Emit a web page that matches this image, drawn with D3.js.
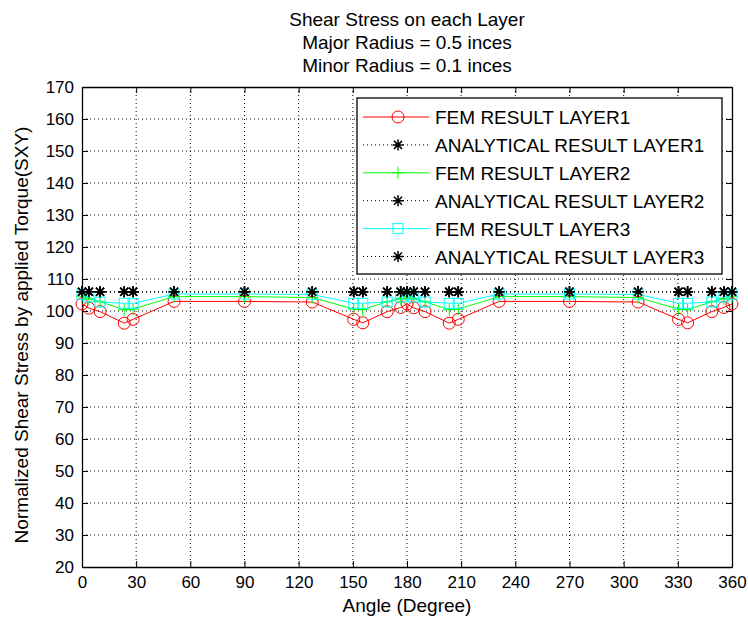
<!DOCTYPE html>
<html>
<head>
<meta charset="utf-8">
<script src="https://cdn.jsdelivr.net/npm/d3@7"></script>
<style>
  html, body { margin: 0; padding: 0; background: #fff; }
  svg { display: block; }
  text { font-family: "Liberation Sans", Arial, sans-serif; fill: #000; }
</style>
</head>
<body>
<svg id="chart" width="748" height="626"></svg>
<script>
// Angular positions of the mesh nodes (degrees)
const angles = [0, 3.8, 10, 23.4, 28.3, 51, 90, 127.5, 150.5, 155.5, 169, 176.5, 180,
                183.7, 190, 203.4, 208.4, 231, 270, 308, 330.4, 335.4, 348.8, 355.5, 360];

// Normalized shear stress per layer (FEM) and closed-form reference
const femLayer1 = [102.2, 100.9, 99.8, 96.2, 97.4, 103, 103, 102.8, 97.4, 96.3, 99.8, 101.1, 102.2,
                   101, 99.8, 96.2, 97.4, 103, 103, 102.8, 97.4, 96.3, 99.8, 101.1, 102.2];
const femLayer2 = [104.6, 103.8, 102.9, 100.4, 100.6, 104.5, 104.5, 104.2, 100.6, 100.4, 102.9, 103.8, 104.6,
                   103.8, 102.9, 100.4, 100.6, 104.5, 104.5, 104.2, 100.6, 100.4, 102.9, 103.8, 104.6];
const femLayer3 = [105.2, 104.4, 102.8, 102.4, 102.4, 105.3, 105.3, 105.2, 102.4, 102.4, 102.8, 104.4, 105.2,
                   104.4, 102.8, 102.4, 102.4, 105.3, 105.3, 105.2, 102.4, 102.4, 102.8, 104.4, 105.2];
const analytical = [106, 106, 106, 106, 106, 106, 106, 106, 106, 106, 106, 106, 106,
                    106, 106, 106, 106, 106, 106, 106, 106, 106, 106, 106, 106];

const xTicks = [0, 30, 60, 90, 120, 150, 180, 210, 240, 270, 300, 330, 360];
const yTicks = [20, 30, 40, 50, 60, 70, 80, 90, 100, 110, 120, 130, 140, 150, 160, 170];

const titleLines = ["Shear Stress on each Layer", "Major Radius = 0.5 inces", "Minor Radius = 0.1 inces"];
const xLabel = "Angle (Degree)";
const yLabel = "Normalized Shear Stress by applied Torque(SXY)";

const seriesNames = ["FEM RESULT LAYER1", "ANALYTICAL RESULT LAYER1", "FEM RESULT LAYER2",
                     "ANALYTICAL RESULT LAYER2", "FEM RESULT LAYER3", "ANALYTICAL RESULT LAYER3"];
const seriesValues = [femLayer1, analytical, femLayer2, analytical, femLayer3, analytical];

const styles = [
  { color: "#ff0000", dash: null, marker: "circle" },
  { color: "#000000", dash: "1,3", marker: "star" },
  { color: "#00ff00", dash: null, marker: "plus" },
  { color: "#000000", dash: "1,3", marker: "star" },
  { color: "#00ffff", dash: null, marker: "square" },
  { color: "#000000", dash: "1,3", marker: "star" }
];

const svg = d3.select("#chart");
const plot = { left: 82, right: 732, top: 87, bottom: 567 };

const x = d3.scaleLinear().domain([0, 360]).range([plot.left, plot.right]);
const y = d3.scaleLinear().domain([20, 170]).range([plot.bottom, plot.top]);

// Dotted grid
const grid = svg.append("g").attr("stroke", "#000").attr("stroke-width", 1)
  .attr("stroke-dasharray", "1,3").attr("fill", "none");
xTicks.slice(1, -1).forEach(t => grid.append("line")
  .attr("x1", x(t)).attr("x2", x(t)).attr("y1", plot.top).attr("y2", plot.bottom));
yTicks.slice(1, -1).forEach(t => grid.append("line")
  .attr("x1", plot.left).attr("x2", plot.right).attr("y1", y(t)).attr("y2", y(t)));

// Axes with inward ticks on all four sides
const tickLen = 6;
const axB = d3.axisBottom(x).tickValues(xTicks).tickSizeInner(-tickLen).tickSizeOuter(0).tickPadding(9);
const axT = d3.axisTop(x).tickValues(xTicks).tickSizeInner(-tickLen).tickSizeOuter(0).tickFormat("");
const axL = d3.axisLeft(y).tickValues(yTicks).tickSizeInner(-tickLen).tickSizeOuter(0).tickPadding(8);
const axR = d3.axisRight(y).tickValues(yTicks).tickSizeInner(-tickLen).tickSizeOuter(0).tickFormat("");

function styleAxis(g) {
  g.selectAll("path").attr("stroke", "#000").attr("stroke-width", 1.3);
  g.selectAll("line").attr("stroke", "#000").attr("stroke-width", 1);
  g.selectAll("text").attr("font-size", 17).attr("fill", "#000")
    .style("font-family", '"Liberation Sans", Arial, sans-serif');
}
svg.append("g").attr("transform", `translate(0,${plot.bottom})`).call(axB).call(styleAxis);
svg.append("g").attr("transform", `translate(0,${plot.top})`).call(axT).call(styleAxis);
svg.append("g").attr("transform", `translate(${plot.left},0)`).call(axL).call(styleAxis);
svg.append("g").attr("transform", `translate(${plot.right},0)`).call(axR).call(styleAxis);

// Marker drawing
function drawMarker(g, type, cx, cy, color) {
  if (type === "circle") {
    g.append("circle").attr("cx", cx).attr("cy", cy).attr("r", 6)
      .attr("fill", "none").attr("stroke", color).attr("stroke-width", 1);
  } else if (type === "square") {
    g.append("rect").attr("x", cx - 5).attr("y", cy - 5).attr("width", 10).attr("height", 10)
      .attr("fill", "none").attr("stroke", color).attr("stroke-width", 1);
  } else if (type === "plus") {
    g.append("path").attr("d", `M${cx - 6},${cy}H${cx + 6}M${cx},${cy - 6}V${cy + 6}`)
      .attr("stroke", color).attr("stroke-width", 1).attr("fill", "none");
  } else if (type === "star") {
    const r = 5.5, d = 4;
    g.append("path")
      .attr("d", `M${cx - r},${cy}H${cx + r}M${cx},${cy - r}V${cy + r}` +
                 `M${cx - d},${cy - d}L${cx + d},${cy + d}M${cx - d},${cy + d}L${cx + d},${cy - d}`)
      .attr("stroke", color).attr("stroke-width", 1.5).attr("fill", "none");
  }
}

// Series lines and markers
const plotArea = svg.append("g");
const line = d3.line().x(d => x(d[0])).y(d => y(d[1]));
seriesValues.forEach((vals, i) => {
  const st = styles[i];
  const pts = angles.map((a, k) => [a, vals[k]]);
  plotArea.append("path").datum(pts).attr("d", line)
    .attr("fill", "none").attr("stroke", st.color).attr("stroke-width", 1)
    .attr("stroke-dasharray", st.dash);
  const mg = plotArea.append("g");
  pts.forEach(p => drawMarker(mg, st.marker, x(p[0]), y(p[1]), st.color));
});

// Titles and axis labels
const title = svg.append("g");
titleLines.forEach((t, i) => title.append("text")
  .attr("x", (plot.left + plot.right) / 2).attr("y", 26 + i * 23)
  .attr("text-anchor", "middle").attr("font-size", 19).text(t));

svg.append("text").attr("x", (plot.left + plot.right) / 2).attr("y", 612)
  .attr("text-anchor", "middle").attr("font-size", 19).text(xLabel);

svg.append("text")
  .attr("transform", `translate(28,${(plot.top + plot.bottom) / 2 + 8}) rotate(-90)`)
  .attr("text-anchor", "middle").attr("font-size", 19).text(yLabel);

// Legend
const leg = { x: 357, y: 98, w: 365, h: 176, row: 27.9, first: 117 };
const lg = svg.append("g");
lg.append("rect").attr("x", leg.x).attr("y", leg.y).attr("width", leg.w).attr("height", leg.h)
  .attr("fill", "#fff").attr("stroke", "#000").attr("stroke-width", 1.3);
seriesNames.forEach((name, i) => {
  const st = styles[i];
  const cy = leg.first + i * leg.row;
  lg.append("line").attr("x1", 363).attr("x2", 429).attr("y1", cy).attr("y2", cy)
    .attr("stroke", st.color).attr("stroke-width", 1).attr("stroke-dasharray", st.dash);
  drawMarker(lg, st.marker, 398, cy, st.color);
  lg.append("text").attr("x", 435).attr("y", cy + 7).attr("font-size", 19).text(name);
});
</script>
</body>
</html>
